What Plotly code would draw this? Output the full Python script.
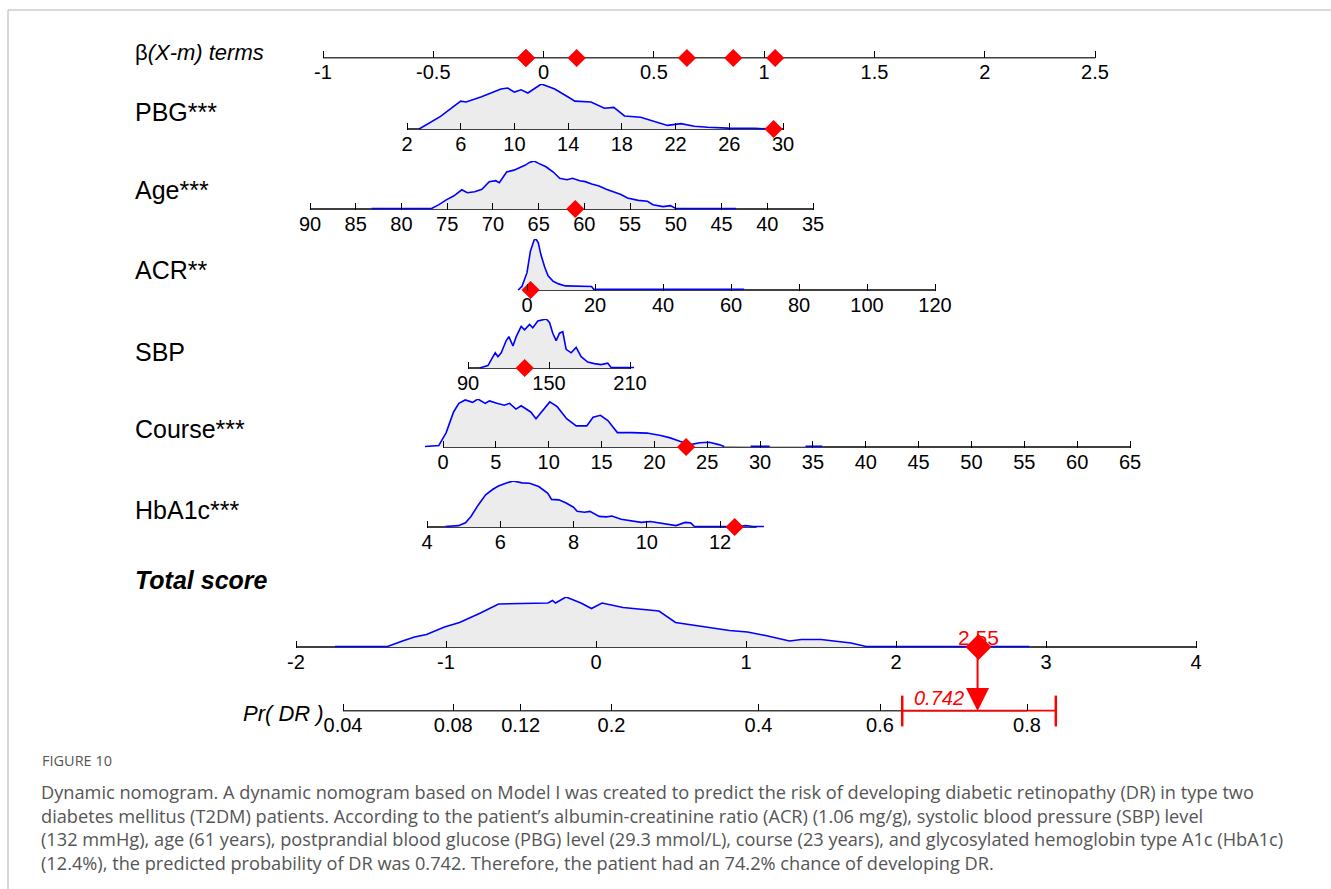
import numpy as np
import plotly.graph_objects as go

W, H = 1331, 889

# ------------------------------------------------------------------ data
beta_ticks = [-1, -0.5, 0, 0.5, 1, 1.5, 2, 2.5]
beta_labels = ["-1", "-0.5", "0", "0.5", "1", "1.5", "2", "2.5"]
# patient's beta*(X-m) terms: PBG, Age, ACR, SBP, Course, HbA1c
patient_terms = [1.05, 0.15, -0.08, -0.08, 0.65, 0.86]

pbg_ticks = [2, 6, 10, 14, 18, 22, 26, 30]
pbg_value = 29.3
pbg_x = [2.9, 4.5, 6.0, 6.4, 7.5, 9.0, 9.5, 10.0, 10.5, 11.0, 12.0, 13.0, 14.0, 14.5,
         15.7, 16.7, 17.4, 18.2, 19.4, 20.4, 21.4, 22.4, 23.4, 24.4, 25.9, 27.9, 29.2]
pbg_d = [0, 0.28, 0.62, 0.60, 0.71, 0.89, 0.91, 0.82, 0.87, 0.80, 1.0, 0.89, 0.71, 0.62,
         0.60, 0.46, 0.48, 0.29, 0.26, 0.17, 0.08, 0.12, 0.06, 0.04, 0.02, 0.015, 0.0]

age_ticks = [90, 85, 80, 75, 70, 65, 60, 55, 50, 45, 40, 35]
age_value = 61
age_x = [83.3, 81.4, 80.6, 76.7, 75.9, 75.1, 74.3, 73.4, 72.8, 72.0, 71.2, 70.4, 69.7, 69.3,
         68.5, 67.7, 67.1, 66.5, 66.0, 65.5, 65.0, 64.2, 63.4, 62.7, 61.9, 61.3, 60.5, 59.9,
         59.2, 58.4, 57.6, 56.8, 56.0, 55.3, 54.1, 53.1, 52.5, 51.4, 50.6, 50.0, 43.4]
age_d = [0.01, 0.01, 0.01, 0.01, 0.09, 0.19, 0.27, 0.40, 0.34, 0.36, 0.41, 0.57, 0.59, 0.55,
         0.77, 0.81, 0.86, 0.91, 0.97, 1.0, 0.95, 0.88, 0.77, 0.64, 0.61, 0.64, 0.59, 0.57,
         0.52, 0.48, 0.41, 0.35, 0.30, 0.23, 0.18, 0.16, 0.09, 0.05, 0.07, 0.01, 0.01]

acr_ticks = [0, 20, 40, 60, 80, 100, 120]
acr_value = 1.06
acr_x = [-2.6, -1.5, 0, 1.0, 2.1, 2.6, 3.3, 4.1, 5.2, 6.2, 7.7, 9.3, 11.3, 16.5, 19.0, 19.6, 63.9]
acr_d = [0, 0.07, 0.34, 0.76, 0.98, 1.0, 0.93, 0.69, 0.45, 0.28, 0.17, 0.12, 0.08, 0.07, 0.07,
         0.014, 0.014]

sbp_ticks = [90, 150, 210]
sbp_value = 132
sbp_x = [98.6, 104.8, 108.5, 110.2, 112.2, 114.6, 118.3, 120.3, 123.3, 125.7, 129.4, 131.9,
         135.6, 138.0, 141.7, 145.4, 147.9, 150.4, 152.8, 155.3, 157.8, 160.2, 162.7, 166.4,
         170.1, 173.8, 178.7, 183.6, 188.6, 193.5, 196.0, 213.0]
sbp_d = [0, 0.05, 0.23, 0.31, 0.23, 0.31, 0.56, 0.64, 0.45, 0.64, 0.85, 0.78, 0.89, 0.82,
         0.96, 0.98, 1.0, 0.93, 0.71, 0.56, 0.71, 0.74, 0.38, 0.31, 0.42, 0.23, 0.12, 0.09,
         0.07, 0.10, 0.01, 0.01]

course_ticks = [0, 5, 10, 15, 20, 25, 30, 35, 40, 45, 50, 55, 60, 65]
course_value = 23
course_x = [-1.7, -0.4, 0.3, 1.0, 1.5, 2.1, 2.8, 3.3, 4.0, 4.4, 5.1, 5.8, 6.3, 6.9, 7.4, 8.3,
            8.8, 9.4, 10.1, 10.8, 11.7, 12.6, 13.6, 14.2, 14.9, 15.6, 16.5, 17.9, 19.3, 20.6,
            21.5, 22.4, 23.4, 24.3, 25.2, 26.1, 26.6, None, 29.1, 30.9, None, 34.3, 35.9]
course_d = [0.01, 0.03, 0.30, 0.73, 0.91, 0.98, 0.93, 1.0, 0.91, 0.96, 0.91, 0.87, 0.91, 0.79,
            0.86, 0.73, 0.59, 0.76, 0.94, 0.84, 0.59, 0.44, 0.44, 0.62, 0.66, 0.55, 0.30, 0.30,
            0.29, 0.24, 0.19, 0.12, 0.05, 0.09, 0.10, 0.05, 0.01, None, 0.015, 0.015, None,
            0.015, 0.015]

hba1c_ticks = [4, 6, 8, 10, 12]
hba1c_value = 12.4
hba1c_x = [4.5, 4.86, 5.05, 5.2, 5.4, 5.6, 5.8, 5.95, 6.15, 6.35, 6.6, 6.8, 7.05, 7.3, 7.4,
           7.6, 7.8, 8.0, 8.1, 8.3, 8.45, 8.7, 8.9, 9.05, 9.3, 9.6, 9.85, 10.1, 10.5, 10.8,
           11.05, 11.2, 11.3, 12.5, 12.7, 12.9, 13.2]
hba1c_d = [0.01, 0.03, 0.09, 0.23, 0.48, 0.70, 0.82, 0.89, 0.95, 1.0, 0.96, 0.95, 0.88, 0.73,
           0.60, 0.59, 0.52, 0.43, 0.34, 0.32, 0.34, 0.23, 0.22, 0.24, 0.17, 0.14, 0.10, 0.12,
           0.07, 0.03, 0.10, 0.09, 0.01, 0.01, 0.03, 0.01, 0.01]

total_ticks = [-2, -1, 0, 1, 2, 3, 4]
total_value = 2.55
total_x = [-1.74, -1.39, -1.29, -1.21, -1.13, -1.01, -0.91, -0.77, -0.65, -0.32, -0.29, -0.27,
           -0.20, -0.10, -0.03, 0.04, 0.18, 0.42, 0.53, 0.73, 0.89, 1.01, 1.13, 1.29, 1.37,
           1.50, 1.70, 1.80, 2.89]
total_d = [0.01, 0.01, 0.12, 0.20, 0.25, 0.40, 0.49, 0.68, 0.86, 0.88, 0.93, 0.88, 1.0, 0.88,
           0.77, 0.88, 0.79, 0.72, 0.49, 0.40, 0.33, 0.30, 0.23, 0.12, 0.15, 0.15, 0.08, 0.01,
           0.01]

pr_ticks = [0.04, 0.08, 0.12, 0.2, 0.4, 0.6, 0.8]
pr_value = 0.742
pr_ci = [0.635, 0.829]

row_labels = ["β<i>(X-m) terms</i>", "PBG***", "Age***", "ACR**", "SBP", "Course***",
              "HbA1c***", "<b><i>Total score</i></b>"]

caption_title = "FIGURE 10"
caption_lines = [
    "Dynamic nomogram. A dynamic nomogram based on Model I was created to predict the risk of developing diabetic retinopathy (DR) in type two",
    "diabetes mellitus (T2DM) patients. According to the patient\u2019s albumin-creatinine ratio (ACR) (1.06 mg/g), systolic blood pressure (SBP) level",
    "(132 mmHg), age (61 years), postprandial blood glucose (PBG) level (29.3 mmol/L), course (23 years), and glycosylated hemoglobin type A1c (HbA1c)",
    "(12.4%), the predicted probability of DR was 0.742. Therefore, the patient had an 74.2% chance of developing DR.",
]


def logit(p):
    p = np.asarray(p, dtype=float)
    return np.log(p / (1 - p))


def fmt(v):
    return ("%g" % v)


# ------------------------------------------------------------------ layout helpers
NARROW = "Liberation Sans, Arial, sans-serif"
TICKFONT = dict(family=NARROW, size=20, color="black")
LABFONT = dict(family="Liberation Sans, Arial, sans-serif", size=25, color="black")

# each row: ticks, tick text, line extent, baseline pixel y, density peak px, calibration
rows = [
    dict(tv=beta_ticks, tt=beta_labels, ext=[-1, 2.5], y=58, peak=20, cal=(-1, 323, 2.5, 1095)),
    dict(tv=pbg_ticks, tt=[fmt(t) for t in pbg_ticks], ext=[2, 30], y=129, peak=45,
         cal=(2, 407, 30, 783)),
    dict(tv=age_ticks, tt=[fmt(t) for t in age_ticks], ext=[90, 35], y=209, peak=48,
         cal=(90, 310, 35, 813)),
    dict(tv=acr_ticks, tt=[fmt(t) for t in acr_ticks], ext=[0, 120], y=290, peak=51,
         cal=(0, 527, 120, 935)),
    dict(tv=sbp_ticks, tt=[fmt(t) for t in sbp_ticks], ext=[90, 210], y=368, peak=49,
         cal=(90, 468, 210, 630)),
    dict(tv=course_ticks, tt=[fmt(t) for t in course_ticks], ext=[0, 65], y=447, peak=48,
         cal=(0, 443, 65, 1130)),
    dict(tv=hba1c_ticks, tt=[fmt(t) for t in hba1c_ticks], ext=[4, 13], y=527, peak=46,
         cal=(4, 427, 12, 720)),
    dict(tv=total_ticks, tt=[fmt(t) for t in total_ticks], ext=[-2, 4], y=647, peak=50,
         cal=(-2, 296, 4, 1196)),
    dict(tv=list(logit(pr_ticks)), tt=[fmt(t) for t in pr_ticks],
         ext=[float(logit(pr_ticks[0])), float(logit(pr_ticks[-1]))], y=711, peak=20,
         cal=(float(logit(0.04)), 343, float(logit(0.8)), 1027)),
]

label_y = [53, 112, 190, 270, 352, 429, 510, 580]

fig = go.Figure()


def suf(i):
    return "" if i == 1 else str(i)


for i, r in enumerate(rows, start=1):
    va, pa, vb, pb = r["cal"]
    s = (pb - pa) / (vb - va)
    rng = [va - pa / s, va + (W - pa) / s]
    bottom = r["y"] + 0.02 * r["peak"]
    top = r["y"] - r["peak"]
    fig.layout["xaxis" + suf(i)] = dict(
        domain=[0, 1], range=rng, anchor="y" + suf(i), tickmode="array",
        tickvals=r["tv"], ticktext=r["tt"], ticks="inside", ticklen=7, tickwidth=1,
        tickcolor="black", showline=False, showgrid=False, zeroline=False,
        tickfont=TICKFONT, fixedrange=True)
    fig.layout["yaxis" + suf(i)] = dict(
        domain=[1 - bottom / H, 1 - top / H], range=[-0.02, 1.0], visible=False,
        anchor="x" + suf(i), fixedrange=True)
    # black axis line
    fig.add_trace(go.Scatter(x=r["ext"], y=[0, 0], mode="lines",
                             line=dict(color="black", width=1.5),
                             xaxis="x" + suf(i), yaxis="y" + suf(i),
                             hoverinfo="skip", showlegend=False))

densities = [(2, pbg_x, pbg_d), (3, age_x, age_d), (4, acr_x, acr_d), (5, sbp_x, sbp_d),
             (6, course_x, course_d), (7, hba1c_x, hba1c_d), (8, total_x, total_d)]
for i, xs, ds in densities:
    fig.add_trace(go.Scatter(x=xs, y=ds, mode="lines", fill="tozeroy",
                             fillcolor="#ececec", line=dict(color="blue", width=1.6),
                             connectgaps=False,
                             xaxis="x" + suf(i), yaxis="y" + suf(i),
                             hoverinfo="skip", showlegend=False))

# patient's terms on the beta scale
fig.add_trace(go.Scatter(x=patient_terms, y=[0] * len(patient_terms), mode="markers",
                         marker=dict(symbol="diamond", size=14, color="red"),
                         cliponaxis=False, xaxis="x", yaxis="y",
                         hoverinfo="skip", showlegend=False))

patient_values = [(2, pbg_value), (3, age_value), (4, acr_value), (5, sbp_value),
                  (6, course_value), (7, hba1c_value)]
for i, v in patient_values:
    fig.add_trace(go.Scatter(x=[v], y=[0], mode="markers",
                             marker=dict(symbol="diamond", size=14, color="red"),
                             cliponaxis=False, xaxis="x" + suf(i), yaxis="y" + suf(i),
                             hoverinfo="skip", showlegend=False))

# total score point
fig.add_trace(go.Scatter(x=[total_value], y=[0], mode="markers",
                         marker=dict(symbol="diamond", size=20, color="red"),
                         cliponaxis=False, xaxis="x8", yaxis="y8",
                         hoverinfo="skip", showlegend=False))

# confidence interval on probability scale
fig.add_trace(go.Scatter(x=list(logit(pr_ci)), y=[0, 0], mode="lines+markers",
                         line=dict(color="red", width=2.5),
                         marker=dict(symbol="line-ns", size=22,
                                     line=dict(color="red", width=2.5)),
                         cliponaxis=False, xaxis="x9", yaxis="y9",
                         hoverinfo="skip", showlegend=False))

ann = []
for lab, y in zip(row_labels, label_y):
    f = dict(LABFONT)
    if lab.startswith("β"):
        f["size"] = 22
    ann.append(dict(x=133 / W, y=1 - y / H, xref="paper", yref="paper", text=lab,
                    showarrow=False, xanchor="left", yanchor="middle", font=f))

ann.append(dict(x=325 / W, y=1 - 713 / H, xref="paper", yref="paper",
                text="<i>Pr( DR )</i>", showarrow=False, xanchor="right", yanchor="middle",
                borderpad=0,
                font=dict(family="Liberation Sans, Arial, sans-serif", size=22, color="black")))

# total score value label
ann.append(dict(x=total_value, y=0, xref="x8", yref="y8", text=fmt(total_value),
                showarrow=False, xanchor="center", yanchor="bottom", yshift=-4,
                font=dict(family=NARROW, size=21, color="red")))

# arrow from total score to probability
ann.append(dict(x=float(logit(pr_value)), y=0, xref="x9", yref="y9", text="",
                showarrow=True, ax=0, ay=-63, axref="pixel", ayref="pixel",
                arrowhead=2, arrowsize=2.3, arrowwidth=2, arrowcolor="red", standoff=0))

ann.append(dict(x=float(logit(pr_value)), y=0, xref="x9", yref="y9", text="<i>%g</i>" % pr_value,
                showarrow=False, xanchor="right", yanchor="bottom", xshift=-12, yshift=0,
                font=dict(family="Liberation Sans, Arial, sans-serif", size=20, color="red")))

# caption
ann.append(dict(x=40 / W, y=1 - 760 / H, xref="paper", yref="paper", text=caption_title,
                showarrow=False, xanchor="left", yanchor="middle",
                font=dict(family="Open Sans, Noto Sans, sans-serif", size=14.5, color="#555555")))
ann.append(dict(x=40 / W, y=1 - 827 / H, xref="paper", yref="paper",
                text="<br>".join(caption_lines), showarrow=False, xanchor="left",
                yanchor="middle", align="left", borderpad=0,
                font=dict(family="Open Sans, Noto Sans, sans-serif", size=18.2, color="#555555")))

shapes = [
    dict(type="line", xref="paper", yref="paper", x0=8 / W, x1=1, y0=1 - 10 / H, y1=1 - 10 / H,
         line=dict(color="#cccccc", width=1.5)),
    dict(type="line", xref="paper", yref="paper", x0=8 / W, x1=8 / W, y0=0, y1=1 - 10 / H,
         line=dict(color="#cccccc", width=1.5)),
]

fig.update_layout(width=W, height=H, autosize=False,
                  margin=dict(l=0, r=0, t=0, b=0, pad=0),
                  paper_bgcolor="white", plot_bgcolor="rgba(0,0,0,0)",
                  annotations=ann, shapes=shapes, showlegend=False)

fig.write_html("out.html", config={"displayModeBar": False},
               post_script="document.body.style.margin='0';document.body.style.padding='0';"
                           "document.body.style.overflow='hidden';")
